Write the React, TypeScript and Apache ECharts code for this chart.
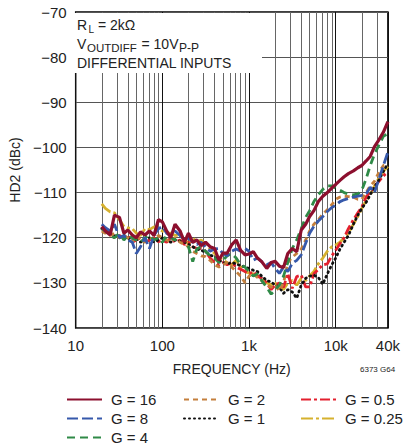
import React, { useEffect, useRef } from "react";
import * as echarts from "echarts";

// Frequency points (Hz)
const FREQ = [
  20, 22, 25, 28, 32, 36, 40, 45, 50, 56, 63, 71, 80, 90,
  100, 112, 125, 140, 160, 180, 200, 224, 250, 280, 315, 355, 400, 450, 500, 560, 630, 710, 800, 900,
  1000, 1120, 1250, 1400, 1600, 1800, 2000, 2240, 2500, 2800, 3150, 3550, 4000, 4500, 5000, 5600, 6300, 7100, 8000, 9000,
  10000, 11200, 12500, 14000, 16000, 18000, 20000, 22400, 25000, 28000, 31500, 35500,
  40000,
];

const G16 = [
  -117.5, -118.5, -119.4, -115, -115.5, -119, -118.3, -119.4, -120, -118.7, -119.4, -118.5, -119.5, -116,
  -116.5, -118.5, -120, -117, -118.5, -121, -119, -121, -120.5, -121.8, -121, -122, -122.4, -125, -123.4, -123.4, -121.6, -120.5, -122.8, -123.8,
  -123.6, -123.1, -124.5, -125.3, -126.8, -125.5, -125.2, -126.3, -126.6, -123.5, -122.4, -123.1, -118.3, -117, -115.3, -114, -112, -110.8, -110, -109,
  -108.2, -107.3, -106.5, -105.8, -105.2, -104.5, -104, -103, -102, -99.8, -98.3, -96.6,
  -94.3,
];
const G8 = [
  -117, -117.8, -118.5, -117, -120, -119.5, -120.5, -121, -123.5, -122, -120, -122.4, -119.5, -118,
  -117.5, -119, -119.5, -118.5, -119.5, -120.5, -120, -121, -121.5, -121, -122, -123, -122.5, -122.4, -123.5, -124, -123, -122.5, -123, -122.4,
  -123, -125, -124.5, -125.3, -126, -125.5, -126.8, -127.9, -126.5, -127.5, -125.7, -125, -123.8, -121.2, -119, -117.5, -116.3, -115.3, -114.2, -113.3,
  -112.8, -112, -111.6, -111.3, -111, -110.8, -110.6, -110.3, -108.8, -110, -107, -104,
  -101,
];
const G4 = [
  -118, -118.5, -119.5, -120, -119, -120.5, -119.5, -120, -120.5, -121, -120, -119.5, -120.5, -120,
  -121, -119.5, -120, -120.5, -119.5, -120.5, -122, -125.3, -122.5, -122, -123, -124, -124.5, -125.5, -125, -124, -123.5, -124.5, -126, -126.5,
  -127.5, -128.5, -128, -129.5, -131, -132.5, -131.5, -130.5, -128.5, -125.5, -122.4, -120.5, -118, -115.5, -114, -112, -110.5, -109.3, -108.5, -108.5,
  -109, -109.5, -110, -110.3, -110.5, -110.3, -109.5, -107, -104, -101.5, -99.5, -97.5,
  -97,
];
const G2 = [
  -118.5, -119, -119.5, -119, -120, -119.5, -120, -121, -119.5, -120.5, -121, -120, -120.5, -119.5,
  -120, -120.5, -121, -120, -121, -121.5, -122, -123, -123.5, -124, -124.2, -125, -126, -126.5, -126, -125.5, -126.5, -127.5, -128.5, -130,
  -128.5, -128, -128.8, -129.5, -130.5, -131, -130.5, -131.8, -130, -125.5, -124.3, -123.5, -122.5, -120.5, -118.5, -117, -116, -114.8, -113.8, -112.7,
  -111.5, -111, -110.8, -110.9, -111, -111.5, -111.5, -110, -108.5, -107.5, -105.5, -104,
  -103.8,
];
const G1 = [
  -118, -118.5, -119, -119.5, -120, -119.5, -120, -120.5, -120, -121, -120.5, -120, -121, -120.5,
  -120, -120.5, -121, -120.5, -120.8, -121, -121.5, -122, -122.5, -122.8, -123.2, -123.8, -124.3, -125, -125.5, -125.8, -125.5, -125.8, -126.2, -126.5,
  -126.8, -127.2, -127.5, -128.5, -129.5, -129.8, -130.5, -131, -132.3, -131.5, -132, -133.4, -130.5, -129, -128.5, -128.3, -128.8, -130.3, -128, -126,
  -124.5, -122.5, -121, -119.5, -117, -115, -113.5, -112.2, -110.5, -108.8, -107.2, -105.3,
  -103.5,
];
const G05 = [
  -118, -118.5, -119, -120, -119.5, -120, -119.5, -121, -120.5, -120, -121, -120.5, -120, -120.9,
  -120.5, -121, -120, -121, -120.5, -121.5, -121, -122, -122.4, -122.4, -123, -124.5, -125.5, -126, -125.5, -126, -125.5, -126.5, -127, -127.5,
  -128, -127.5, -128.5, -129, -130, -131.5, -130.5, -130, -131, -127.9, -131.2, -128.6, -128.3, -130.9, -130.9, -128, -127, -126, -125.8, -124,
  -122.8, -121.3, -120, -118, -116, -114.5, -113.2, -111, -109.8, -108.7, -107.5, -106.3,
  -105.4,
];
const G025 = [
  -112.5, -113.5, -114.3, -114.5, -116, -117.5, -117.8, -118, -119, -119.5, -118, -118.2, -117.6, -118,
  -118.5, -119, -119, -119.5, -119.5, -120, -121.5, -120, -121, -120.5, -121.5, -122.5, -123.5, -124.5, -125, -125.5, -126, -125, -126.5, -127.5,
  -127.8, -128, -128.5, -129, -130, -130.5, -130, -131, -131.5, -130, -129.5, -130.5, -129, -129.5, -128.5, -127.5, -125.8, -124.5, -123, -122,
  -121.6, -121, -120, -119, -117, -115.3, -113.5, -111.8, -110.5, -108.5, -106.8, -105.3,
  -104.2,
];

const MINOR_GRID = [20, 30, 40, 50, 60, 70, 80, 90, 200, 300, 400, 500, 600, 700, 800, 900, 2000, 3000, 4000, 5000, 6000, 7000, 8000, 9000, 20000, 30000];

const SERIES_DEF = [
  { name: "G = 0.25", data: G025, color: "#d6b12e", type: [12, 3, 3, 3], width: 2.8 },
  { name: "G = 0.5", data: G05, color: "#e3202e", type: [10, 3, 3, 3], width: 2.8 },
  { name: "G = 1", data: G1, color: "#111111", type: [1, 4], width: 2.8, cap: "round" },
  { name: "G = 2", data: G2, color: "#c47f3c", type: [5, 4], width: 2.8 },
  { name: "G = 4", data: G4, color: "#2f8a47", type: [8, 5], width: 2.8 },
  { name: "G = 8", data: G8, color: "#3659ab", type: [11, 4], width: 2.8 },
  { name: "G = 16", data: G16, color: "#8c0f2e", type: "solid", width: 3.2 },
];

// legend cell placement: [name, left, row centre]
const LEGEND_CELLS: [string, number, number][] = [
  ["G = 16", 66, 400],
  ["G = 8", 66, 419],
  ["G = 4", 66, 438],
  ["G = 2", 183, 400],
  ["G = 1", 183, 419],
  ["G = 0.5", 300, 400],
  ["G = 0.25", 300, 419],
];

const FONT = "'Liberation Sans', Arial, sans-serif";
const TXT = "#222";

export default function App() {
  const ref = useRef<HTMLDivElement>(null);
  useEffect(() => {
    if (!ref.current) return;
    const chart = echarts.init(ref.current, null, { renderer: "svg" });
    const txt = (text: string, x: number, y: number, size: number) => ({
      type: "text",
      z: 11,
      x,
      y,
      style: { text, fill: TXT, font: size + "px " + FONT, align: "left", verticalAlign: "middle" },
    });
    chart.setOption({
      animation: false,
      grid: { left: 72, right: 15, top: 12, bottom: 118, show: true, borderColor: "#000", borderWidth: 1.5 },
      xAxis: {
        type: "log",
        logBase: 10,
        min: 10,
        max: 40000,
        axisLine: { show: false },
        axisTick: { show: false },
        splitLine: { show: true, lineStyle: { color: "#111", width: 1 } },
        axisLabel: {
          fontSize: 15,
          fontFamily: FONT,
          color: TXT,
          margin: 10,
          formatter: (v: number) => (v >= 1000 ? v / 1000 + "k" : String(v)),
        },
        name: "FREQUENCY (Hz)",
        nameLocation: "middle",
        nameGap: 34,
        nameTextStyle: { fontSize: 14, fontFamily: FONT, color: TXT },
      },
      yAxis: {
        type: "value",
        min: -140,
        max: -70,
        interval: 10,
        axisLine: { show: false },
        axisTick: { show: false },
        splitLine: { show: true, lineStyle: { color: "#555", width: 1 } },
        axisLabel: {
          fontSize: 15,
          fontFamily: FONT,
          color: TXT,
          margin: 9,
          formatter: (v: number) => (v < 0 ? "\u2212" + -v : String(v)),
        },
        name: "HD2 (dBc)",
        nameLocation: "middle",
        nameRotate: 90,
        nameGap: 49,
        nameTextStyle: { fontSize: 14, fontFamily: FONT, color: TXT },
      },
      legend: LEGEND_CELLS.map(([name, left, cy]) => ({
        data: [name],
        left,
        top: cy - 8,
        padding: 0,
        itemWidth: 35,
        itemHeight: 14,
        selectedMode: false,
        itemStyle: { opacity: 0 },
        textStyle: { fontSize: 15, fontFamily: FONT, color: TXT, padding: [0, 0, 0, 4] },
      })),
      graphic: [
        { type: "rect", z: 10, shape: { x: 73, y: 13, width: 189, height: 60 }, style: { fill: "#fff" } },
        txt("R", 77, 25, 14),
        txt("L", 88.5, 29.5, 10),
        txt("= 2k\u03a9", 98, 25, 14),
        txt("V", 77, 44, 14),
        txt("OUTDIFF", 87, 47.8, 11.5),
        txt("= 10V", 141.5, 44, 14),
        txt("P-P", 179, 47.8, 12),
        txt("DIFFERENTIAL INPUTS", 77, 63, 14),
        txt("6373 G64", 360, 369, 8),
      ],
      series: [
        {
          type: "line",
          name: "grid",
          z: 1,
          data: [],
          silent: true,
          markLine: {
            silent: true,
            symbol: ["none", "none"],
            label: { show: false },
            lineStyle: { color: "#666", width: 1, type: "solid" },
            data: MINOR_GRID.map((v) => ({ xAxis: v })),
          },
        },
        ...SERIES_DEF.map((s) => ({
          type: "line",
          name: s.name,
          z: 20,
          symbol: "none",
          showSymbol: false,
          data: FREQ.map((f, i) => [f, s.data[i]]),
          lineStyle: { color: s.color, width: s.width, type: s.type, cap: s.cap || "butt" },
          itemStyle: { color: s.color },
        })),
      ],
    });
    return () => chart.dispose();
  }, []);
  return <div ref={ref} style={{ position: "absolute", left: 0, top: 0, width: 403, height: 446 }} />;
}
